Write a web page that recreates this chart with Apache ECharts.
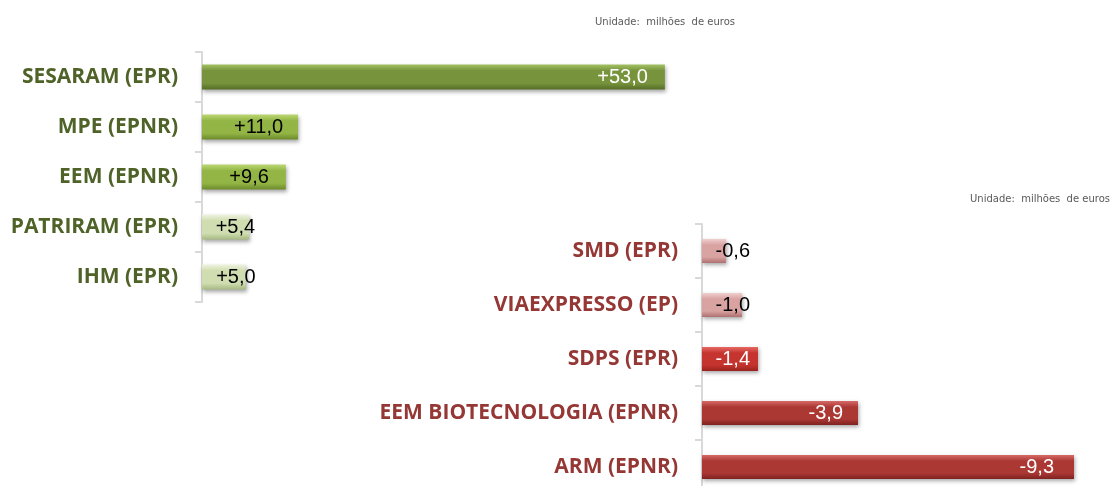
<!DOCTYPE html>
<html>
<head>
<meta charset="utf-8">
<script src="https://cdn.jsdelivr.net/npm/echarts@6/dist/echarts.min.js"></script>
<style>
  html, body { margin: 0; padding: 0; background: #fff; }
  #chart { width: 1113px; height: 486px; }
</style>
</head>
<body>
<div id="chart"></div>
<script>
// dados (milhões de euros)
var posNames = ['SESARAM (EPR)', 'MPE (EPNR)', 'EEM (EPNR)', 'PATRIRAM (EPR)', 'IHM (EPR)'];
var posValues = [53.0, 11.0, 9.6, 5.4, 5.0];
var negNames = ['SMD (EPR)', 'VIAEXPRESSO (EP)', 'SDPS (EPR)', 'EEM BIOTECNOLOGIA (EPNR)', 'ARM (EPNR)'];
var negValues = [-0.6, -1.0, -1.4, -3.9, -9.3];
var unitText = 'Unidade:  milhões  de euros';

// estilos por barra: [topo, meio, fundo]
var posColors = [
  ['#a3c263', '#77933c', '#566d26'],
  ['#bcd774', '#93b545', '#6c8a2b'],
  ['#bcd774', '#93b545', '#6c8a2b'],
  ['#eef3e0', '#d0ddb0', '#a7ba82'],
  ['#eef3e0', '#d0ddb0', '#a7ba82']
];
var negColors = [
  ['#f0cfcf', '#d9a3a2', '#ad706f'],
  ['#f0cfcf', '#d9a3a2', '#ad706f'],
  ['#e66a64', '#c6342f', '#98221e'],
  ['#d66a67', '#ac3834', '#7d2320'],
  ['#d66a67', '#ac3834', '#7d2320']
];
var posLabel = [[-17, '#fff'], [-15, '#000'], [-17, '#000'], [6, '#000'], [10, '#000']];
var negLabel = [[24, '#000'], [8, '#000'], [-8, '#fff'], [-15, '#fff'], [-20, '#fff']];

function fmt(v) {
  var s = Math.abs(v).toFixed(1).replace('.', ',');
  return (v >= 0 ? '+' : '-') + s;
}

function grad(c) {
  return new echarts.graphic.LinearGradient(0, 0, 0, 1, [
    { offset: 0, color: c[0] },
    { offset: 0.25, color: c[1] },
    { offset: 0.75, color: c[1] },
    { offset: 1, color: c[2] }
  ]);
}

function buildData(values, colors, labels) {
  return values.map(function (v, i) {
    return {
      value: v,
      itemStyle: { color: grad(colors[i]) },
      label: { offset: [labels[i][0], 0], color: labels[i][1] }
    };
  });
}

var labelFont = {
  fontFamily: 'Liberation Sans',
  fontSize: 20
};

function catAxis(idx, names, color) {
  return {
    type: 'category',
    gridIndex: idx,
    data: names,
    inverse: true,
    axisLine: { lineStyle: { color: '#d9d9d9', width: 2 } },
    axisTick: { show: true, length: 7, lineStyle: { color: '#d9d9d9', width: 2 } },
    axisLabel: {
      margin: 24,
      color: color,
      fontFamily: 'Open Sans',
      fontWeight: 'bold',
      fontSize: 21
    }
  };
}

var unitStyle = { fontSize: 10, fontWeight: 'normal', color: '#595959', fontFamily: 'DejaVu Sans' };

var chart = echarts.init(document.getElementById('chart'));
chart.setOption({
  animation: false,
  title: [
    { text: unitText, left: 590, top: 12, textStyle: unitStyle },
    { text: unitText, left: 965, top: 189, textStyle: unitStyle }
  ],
  grid: [
    { left: 202, top: 52, width: 524, height: 250, outerBoundsMode: 'none' },
    { left: 702, top: 224, width: 400, height: 270, outerBoundsMode: 'none' }
  ],
  xAxis: [
    { type: 'value', gridIndex: 0, min: 0, max: 60, show: false },
    { type: 'value', gridIndex: 1, min: -10, max: 0, inverse: true, show: false }
  ],
  yAxis: [
    catAxis(0, posNames, '#4f6228'),
    catAxis(1, negNames, '#953735')
  ],
  series: [
    {
      type: 'bar',
      xAxisIndex: 0,
      yAxisIndex: 0,
      barWidth: 25,
      data: buildData(posValues, posColors, posLabel),
      itemStyle: { shadowColor: 'rgba(0,0,0,0.35)', shadowBlur: 4, shadowOffsetX: 1, shadowOffsetY: 2 },
      label: Object.assign({
        show: true,
        position: 'insideRight',
        distance: 0,
        formatter: function (p) { return fmt(p.value); }
      }, labelFont)
    },
    {
      type: 'bar',
      xAxisIndex: 1,
      yAxisIndex: 1,
      barWidth: 24,
      data: buildData(negValues, negColors, negLabel),
      itemStyle: { shadowColor: 'rgba(0,0,0,0.35)', shadowBlur: 4, shadowOffsetX: 1, shadowOffsetY: 2 },
      label: Object.assign({
        show: true,
        position: 'insideRight',
        distance: 0,
        formatter: function (p) { return fmt(p.value); }
      }, labelFont)
    }
  ]
});
</script>
</body>
</html>
